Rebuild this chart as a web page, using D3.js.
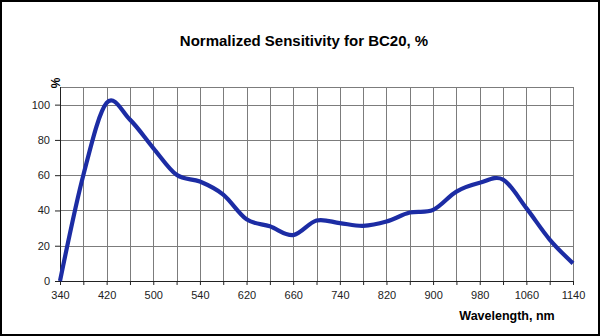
<!DOCTYPE html>
<html>
<head>
<meta charset="utf-8">
<script src="https://cdn.jsdelivr.net/npm/d3@7"></script>
<style>
  html, body { margin: 0; padding: 0; background: #fff; }
  svg { display: block; }
  text { font-family: "Liberation Sans", Arial, sans-serif; }
</style>
</head>
<body>
<svg id="chart" width="600" height="336"></svg>
<script>
// Measured wavelengths (nm), one category each
const wavelengths = [340, 380, 420, 460, 500, 520, 540, 580, 620, 640, 660, 700,
                     740, 780, 820, 860, 900, 940, 980, 1020, 1060, 1100, 1140];
// Normalized sensitivity (%) at each wavelength
const sensitivity = [0, 60, 101, 91.5, 75.4, 60.2, 56.4, 49, 35, 31, 26, 34.3,
                     32.8, 31.3, 33.7, 38.8, 40.3, 50.7, 55.7, 57.5, 41.3, 23.5, 10];
// Every second category carries a tick label
const labelEvery = 2;
const yTicks = [0, 20, 40, 60, 80, 100];
const yMax = 110;

const svg = d3.select("#chart");
const W = 600, H = 336;
const m = { left: 60, right: 27, top: 87, bottom: 55 };

// outer frame
svg.append("rect").attr("x", 1).attr("y", 1).attr("width", W - 2).attr("height", H - 2)
  .attr("fill", "#fff").attr("stroke", "#000").attr("stroke-width", 2);

const x = d3.scalePoint().domain(wavelengths).range([m.left, W - m.right]);
const y = d3.scaleLinear().domain([0, yMax]).range([H - m.bottom, m.top]);

// vertical gridlines at every category
const gx = svg.append("g").attr("transform", `translate(0,${H - m.bottom})`)
  .call(d3.axisBottom(x).tickSize(-(H - m.bottom - m.top)).tickFormat(""));
gx.select(".domain").remove();
gx.selectAll("line").attr("stroke", "#7c7c7c").attr("shape-rendering", "crispEdges");

// horizontal gridlines
const gy = svg.append("g").attr("transform", `translate(${m.left},0)`)
  .call(d3.axisLeft(y).tickValues(yTicks).tickSize(-(W - m.left - m.right)).tickFormat(""));
gy.select(".domain").remove();
gy.selectAll("line").attr("stroke", "#7c7c7c").attr("shape-rendering", "crispEdges");

// plot border (top / right)
svg.append("rect").attr("x", m.left + 0.5).attr("y", y(yMax) + 0.5)
  .attr("width", W - m.left - m.right).attr("height", y(0) - y(yMax))
  .attr("fill", "none").attr("stroke", "#7c7c7c");

// x axis with outer ticks and sparse labels
const ax = svg.append("g").attr("transform", `translate(0,${y(0)})`)
  .call(d3.axisBottom(x).tickSize(4).tickPadding(6)
    .tickFormat((d, i) => (i % labelEvery === 0 ? d : "")));
ax.select(".domain").attr("stroke", "#222");
ax.selectAll("line").attr("stroke", "#222");
ax.selectAll("text").attr("font-size", 11).attr("fill", "#222");

// y axis
const ay = svg.append("g").attr("transform", `translate(${m.left},0)`)
  .call(d3.axisLeft(y).tickValues(yTicks).tickSize(5).tickPadding(5));
ay.select(".domain").attr("stroke", "#222").attr("d", `M0.5,${y(0)}V${y(yMax)}`);
ay.selectAll("line").attr("stroke", "#222");
ay.selectAll("text").attr("font-size", 11).attr("fill", "#222");

// sensitivity curve (smoothed through the measured points)
const line = d3.line()
  .x((d, i) => x(wavelengths[i]))
  .y(d => y(d))
  .curve(d3.curveCatmullRom.alpha(0));
svg.append("path").datum(sensitivity)
  .attr("d", line)
  .attr("fill", "none")
  .attr("stroke", "#1c2ca4")
  .attr("stroke-width", 4.2)
  .attr("stroke-linejoin", "round");

// titles
svg.append("text").attr("x", 304).attr("y", 46).attr("text-anchor", "middle")
  .attr("font-size", 15).attr("font-weight", "bold").attr("fill", "#000")
  .text("Normalized Sensitivity for BC20, %");
svg.append("text").attr("transform", `translate(60,83) rotate(-90)`)
  .attr("text-anchor", "middle").attr("font-size", 12).attr("font-weight", "bold")
  .attr("fill", "#000").text("%");
svg.append("text").attr("x", 507).attr("y", 320).attr("text-anchor", "middle")
  .attr("font-size", 12.5).attr("font-weight", "bold").attr("fill", "#000")
  .text("Wavelength, nm");
</script>
</body>
</html>
